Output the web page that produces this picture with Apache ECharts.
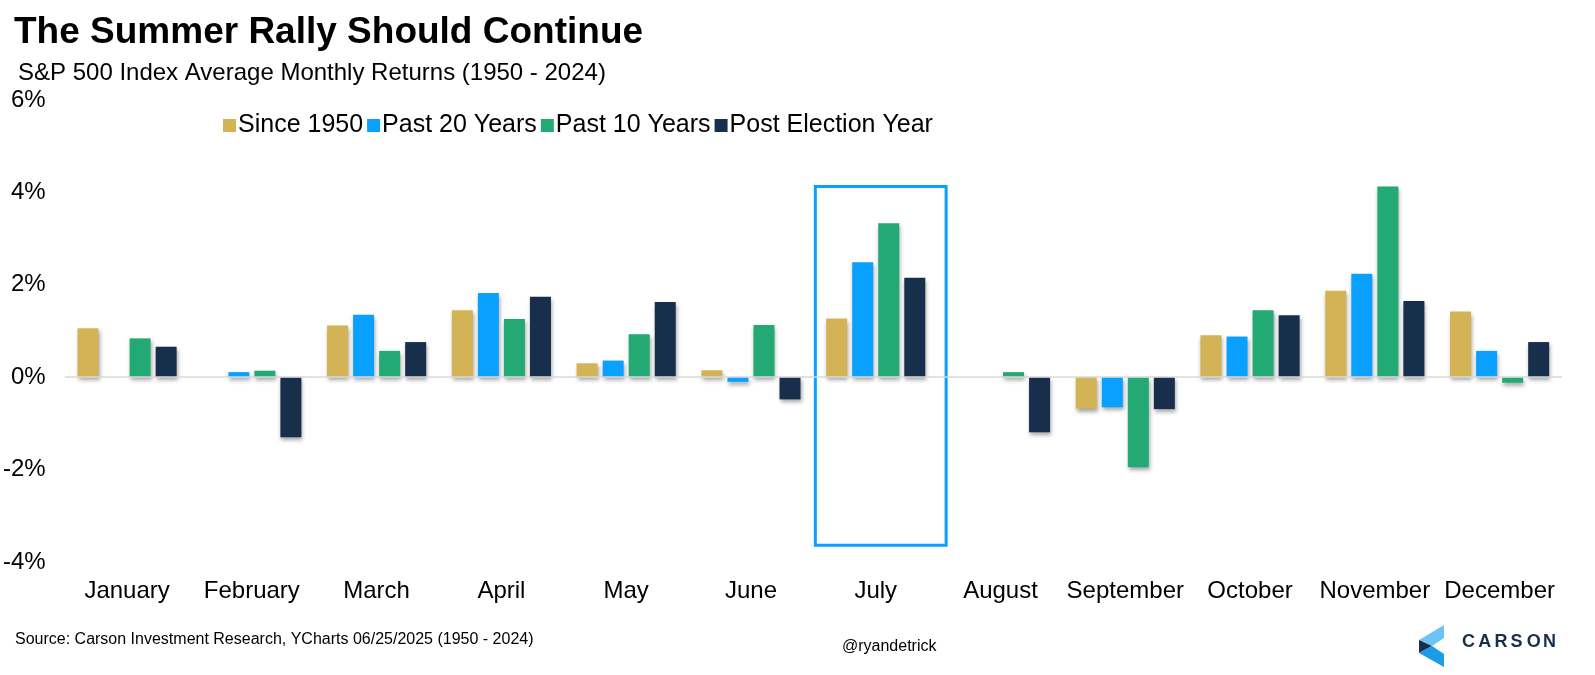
<!DOCTYPE html>
<html>
<head>
<meta charset="utf-8">
<script src="https://cdn.jsdelivr.net/npm/echarts@6/dist/echarts.min.js"></script>
<style>
  html, body { margin: 0; padding: 0; background: #fff; }
  #main { width: 1595px; height: 675px; }
</style>
</head>
<body>
<div id="main"></div>
<script>
var months = ['January','February','March','April','May','June','July','August','September','October','November','December'];
var since1950 = [1.06, 0.00, 1.12, 1.45, 0.30, 0.15, 1.27, 0.00, -0.68, 0.91, 1.87, 1.42];
var past20 = [0.00, 0.11, 1.35, 1.82, 0.36, -0.10, 2.49, 0.00, -0.65, 0.88, 2.24, 0.57];
var past10 = [0.84, 0.14, 0.57, 1.26, 0.93, 1.13, 3.33, 0.11, -1.95, 1.45, 4.13, -0.12];
var postElection = [0.66, -1.30, 0.76, 1.74, 1.63, -0.48, 2.15, -1.19, -0.69, 1.34, 1.65, 0.76];
var seriesNames = ['Since 1950', 'Past 20 Years', 'Past 10 Years', 'Post Election Year'];
var colors = ['#D4B357', '#0AA0FF', '#23AA74', '#172F4A'];
var highlightMonth = 'July';
var highlightRange = [4.13, -3.64]; // top / bottom of the box, in %

var font = 'Arial, "Liberation Sans", sans-serif';

var makeBar = function(name, data, color) {
    return {
        name: name,
        type: 'bar',
        data: data,
        barWidth: 21,
        barGap: '24%',
        itemStyle: {
            color: color,
            shadowColor: 'rgba(0,0,0,0.35)',
            shadowBlur: 4,
            shadowOffsetX: 1,
            shadowOffsetY: 3
        }
    };
};

var series = [
    makeBar(seriesNames[0], since1950, colors[0]),
    makeBar(seriesNames[1], past20, colors[1]),
    makeBar(seriesNames[2], past10, colors[2]),
    makeBar(seriesNames[3], postElection, colors[3])
];
// zero line
series[0].markLine = {
    silent: true,
    symbol: 'none',
    label: { show: false },
    lineStyle: { color: '#d9d9d9', width: 1.5, type: 'solid' },
    data: [{ yAxis: 0 }]
};

var option = {
    backgroundColor: '#fff',
    animation: false,
    textStyle: { fontFamily: font },
    title: [
        {
            text: 'The Summer Rally Should Continue',
            left: 9, top: 9,
            textStyle: { fontSize: 37, fontWeight: 'bold', color: '#000', fontFamily: font }
        },
        {
            text: 'S&P 500 Index Average Monthly Returns (1950 - 2024)',
            left: 13, top: 56,
            textStyle: { fontSize: 24, fontWeight: 'normal', color: '#000', fontFamily: font }
        },
        {
            text: 'Source: Carson Investment Research, YCharts 06/25/2025 (1950 - 2024)',
            left: 10, top: 627,
            textStyle: { fontSize: 16, fontWeight: 'normal', color: '#000', fontFamily: font }
        },
        {
            text: '@ryandetrick',
            left: 837, top: 634,
            textStyle: { fontSize: 16, fontWeight: 'normal', color: '#000', fontFamily: font }
        }
    ],
    legend: {
        data: seriesNames,
        left: 218, top: 108,
        itemWidth: 13, itemHeight: 13, itemGap: 4,
        icon: 'rect',
        textStyle: { fontSize: 25, color: '#000', fontFamily: font, padding: [0, 0, 0, -3] }
    },
    grid: { left: 64, right: 33, top: 100, bottom: 113, containLabel: false },
    xAxis: {
        type: 'category',
        data: months,
        axisLine: { show: false },
        axisTick: { show: false },
        axisLabel: { fontSize: 24, color: '#000', margin: 17, fontFamily: font, interval: 0 }
    },
    yAxis: {
        type: 'value',
        min: -4, max: 6, interval: 2,
        splitLine: { show: false },
        axisLine: { show: false },
        axisTick: { show: false },
        axisLabel: { fontSize: 24, color: '#000', margin: 19, fontFamily: font, formatter: '{value}%' }
    },
    series: series
};

var myChart = echarts.init(document.getElementById('main'));
myChart.setOption(option);

// highlight box around July, placed through the axes
var c = myChart.convertToPixel({ gridIndex: 0 }, [highlightMonth, highlightRange[0]]);
var b = myChart.convertToPixel({ gridIndex: 0 }, [highlightMonth, highlightRange[1]]);
var band = myChart.convertToPixel({ xAxisIndex: 0 }, months[7]) - myChart.convertToPixel({ xAxisIndex: 0 }, months[6]);

var logoLetters = 'CARSON'.split('');
var graphics = [
    {
        type: 'rect',
        shape: { x: c[0] - band * 0.5 + 2, y: c[1], width: band + 6, height: b[1] - c[1] },
        style: { fill: 'none', stroke: '#0AA0FF', lineWidth: 3 },
        silent: true
    },
    // Carson logo mark
    { type: 'polygon', shape: { points: [[1444, 625], [1444, 638], [1432, 646], [1419, 640]] }, style: { fill: '#6CC4F5' } },
    { type: 'polygon', shape: { points: [[1419, 640], [1432, 646], [1419, 653]] }, style: { fill: '#172F4A' } },
    { type: 'polygon', shape: { points: [[1419, 653], [1432, 646], [1444, 654], [1444, 667]] }, style: { fill: '#1E9BE8' } }
];
for (var i = 0; i < logoLetters.length; i++) {
    graphics.push({
        type: 'text',
        left: 1462 + i * 16.2, top: 633,
        style: { text: logoLetters[i], fill: '#172F4A', font: 'bold 18px ' + font }
    });
}
myChart.setOption({ graphic: graphics });
</script>
</body>
</html>
